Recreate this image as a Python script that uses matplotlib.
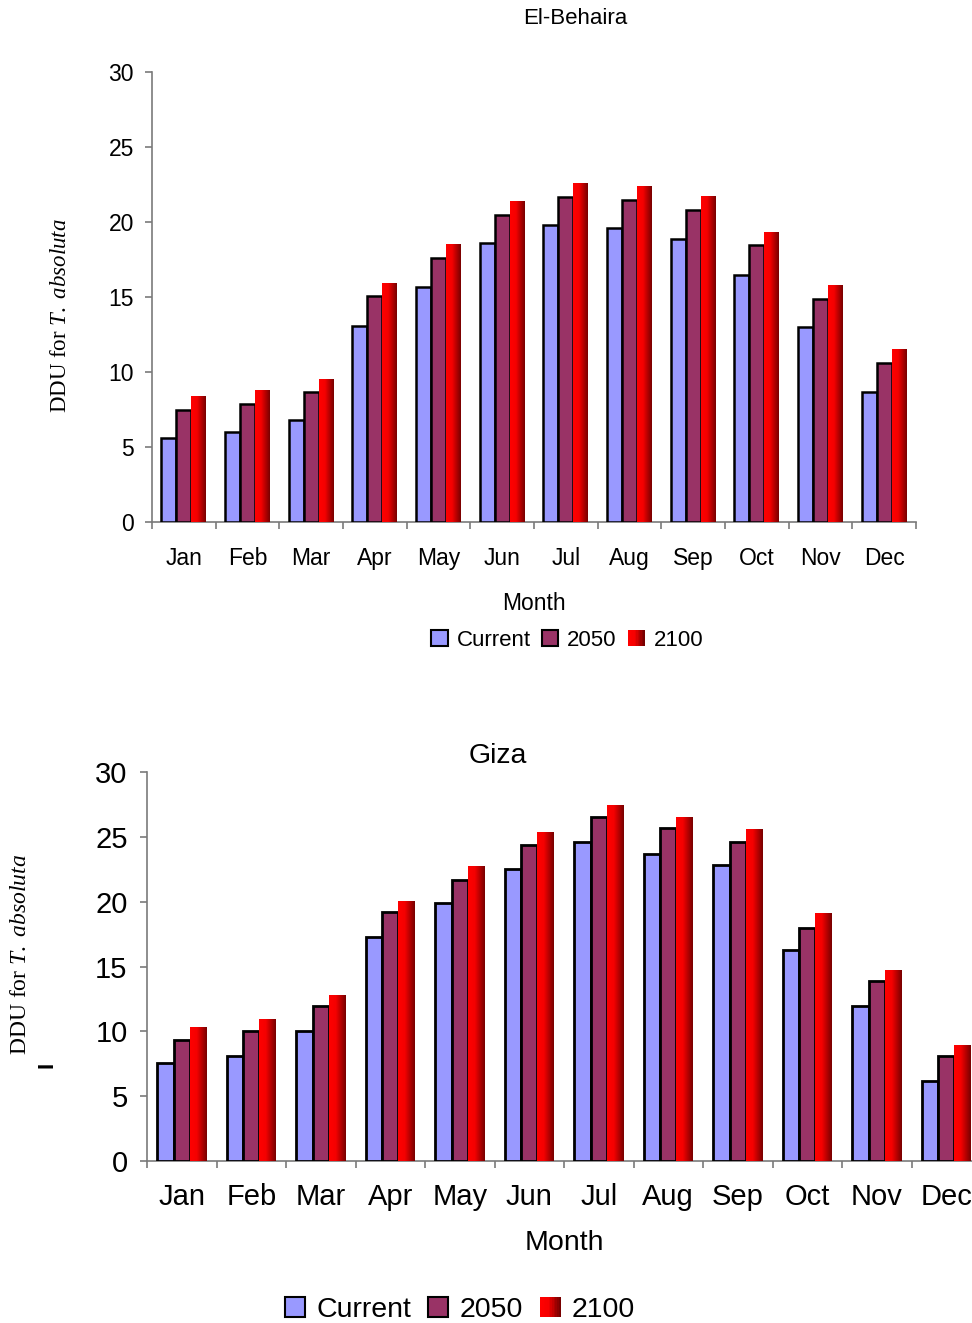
import matplotlib.pyplot as plt
import numpy as np
from matplotlib.colors import LinearSegmentedColormap
from matplotlib.legend_handler import HandlerBase
from matplotlib.patches import Patch, Rectangle

MONTHS = ["Jan", "Feb", "Mar", "Apr", "May", "Jun", "Jul", "Aug", "Sep", "Oct", "Nov", "Dec"]
SERIES = ["Current", "2050", "2100"]

BEHAIRA_CURRENT = [5.6, 6.0, 6.8, 13.1, 15.7, 18.6, 19.8, 19.6, 18.9, 16.5, 13.0, 8.7]
BEHAIRA_2050 = [7.5, 7.9, 8.7, 15.1, 17.6, 20.5, 21.7, 21.5, 20.8, 18.5, 14.9, 10.6]
BEHAIRA_2100 = [8.4, 8.8, 9.5, 15.9, 18.5, 21.4, 22.6, 22.4, 21.7, 19.3, 15.8, 11.5]

GIZA_CURRENT = [7.55, 8.1, 10.0, 17.3, 19.9, 22.5, 24.6, 23.7, 22.8, 16.3, 11.95, 6.2]
GIZA_2050 = [9.3, 10.0, 11.95, 19.2, 21.7, 24.4, 26.5, 25.7, 24.6, 18.0, 13.9, 8.1]
GIZA_2100 = [10.3, 10.9, 12.8, 20.0, 22.7, 25.3, 27.4, 26.5, 25.6, 19.1, 14.7, 8.9]

C_CURRENT = "#9999ff"
C_2050 = "#993366"
RED_GRAD = LinearSegmentedColormap.from_list(
    "redgrad", [(0.0, "#ff0000"), (0.4, "#f50000"), (1.0, "#780000")]
)
AXIS_GREY = "#7a7a7a"

plt.rcParams["font.family"] = ["Liberation Sans", "DejaVu Sans"]
plt.rcParams["mathtext.fontset"] = "custom"
plt.rcParams["mathtext.rm"] = "Liberation Serif"
plt.rcParams["mathtext.it"] = "Liberation Serif:italic"


class GradientHandler(HandlerBase):
    def create_artists(self, legend, orig_handle, xdescent, ydescent,
                       width, height, fontsize, trans):
        n = 12
        side = min(width, height)
        x0 = -xdescent + (width - side) / 2
        y0 = -ydescent + (height - side) / 2
        arts = []
        for i in range(n):
            r = Rectangle((x0 + side * i / n, y0), side / n + 0.3, side,
                          facecolor=RED_GRAD(i / (n - 1)), edgecolor="none",
                          transform=trans)
            arts.append(r)
        return arts


def draw_panel(ax, current, y2050, y2100, fs, xpad, ypad, lw):
    x = np.arange(len(MONTHS))
    w = 0.235
    ax.bar(x - w, current, w, color=C_CURRENT, edgecolor="black", linewidth=lw, zorder=3)
    ax.bar(x, y2050, w, color=C_2050, edgecolor="black", linewidth=lw, zorder=3)
    bars = ax.bar(x + w, y2100, w, color="none", edgecolor="none", zorder=3)
    grad = np.linspace(0, 1, 64).reshape(1, -1)
    for b in bars:
        ax.imshow(grad, cmap=RED_GRAD, aspect="auto", zorder=4,
                  extent=[b.get_x(), b.get_x() + b.get_width(), 0, b.get_height()])

    ax.set_xlim(-0.5, len(MONTHS) - 0.5)
    ax.set_ylim(0, 30)
    ax.set_yticks(range(0, 31, 5))
    ax.set_xticks(np.arange(len(MONTHS) + 1) - 0.5)
    ax.set_xticklabels([])
    ax.set_xticks(x, minor=True)
    ax.set_xticklabels(MONTHS, minor=True)

    for side in ["top", "right"]:
        ax.spines[side].set_visible(False)
    for side in ["left", "bottom"]:
        ax.spines[side].set_color(AXIS_GREY)
        ax.spines[side].set_linewidth(1.2)

    ax.tick_params(axis="both", which="major", direction="out", length=5,
                   width=1.2, color=AXIS_GREY, labelsize=fs, pad=ypad)
    ax.tick_params(axis="x", which="minor", length=0, labelsize=fs, pad=xpad)


fig = plt.figure(figsize=(9.72, 13.23), dpi=100)

ax1 = fig.add_axes([152 / 972, 1 - 522 / 1323, 764 / 972, 450 / 1323])
draw_panel(ax1, BEHAIRA_CURRENT, BEHAIRA_2050, BEHAIRA_2100, 16.5, 18, 8, 1.8)
ax1.set_xlabel("Month", fontsize=16.5, va="center")
ax1.xaxis.set_label_coords(0.5, -0.18)
ax1.set_ylabel(r"DDU for $\it{T.\ absoluta}$", fontsize=16.5, va="center",
               family="Liberation Serif")
ax1.yaxis.set_label_coords(-0.12, 0.458)

ax2 = fig.add_axes([147 / 972, 1 - 1161 / 1323, 834 / 972, 389 / 1323])
draw_panel(ax2, GIZA_CURRENT, GIZA_2050, GIZA_2100, 21, 16, 9, 2.0)
ax2.set_xlabel("Month", fontsize=20.5, va="center")
ax2.xaxis.set_label_coords(0.5, -0.211)
ax2.set_ylabel(r"DDU for $\it{T.\ absoluta}$", fontsize=17, va="center",
               family="Liberation Serif")
ax2.yaxis.set_label_coords(-0.152, 0.53)

fig.text(575 / 972, 1 - 18 / 1323, "El-Behaira", ha="center", va="center", fontsize=16)
fig.text(498 / 972, 1 - 756 / 1323, "Giza", ha="center", va="center", fontsize=20.5)
fig.text(47 / 972, 1 - 1065 / 1323, "I", ha="center", va="center", rotation=90,
         fontsize=16, fontweight="bold")

handles = [
    Patch(facecolor=C_CURRENT, edgecolor="black", linewidth=1.5),
    Patch(facecolor=C_2050, edgecolor="black", linewidth=1.5),
    Patch(facecolor="red"),
]
hmap = {handles[2]: GradientHandler()}
fig.legend(handles, SERIES, loc="center", bbox_to_anchor=(567 / 972, 1 - 640 / 1323),
           ncol=3, frameon=False, fontsize=16, handlelength=0.75, handleheight=0.75,
           handletextpad=0.4, columnspacing=0.5, handler_map=hmap)
fig.legend(handles, SERIES, loc="center", bbox_to_anchor=(460 / 972, 1 - 1310 / 1323),
           ncol=3, frameon=False, fontsize=20.5, handlelength=0.7, handleheight=0.7,
           handletextpad=0.4, columnspacing=0.6, handler_map=hmap)

fig.savefig("out.png", dpi=100)
